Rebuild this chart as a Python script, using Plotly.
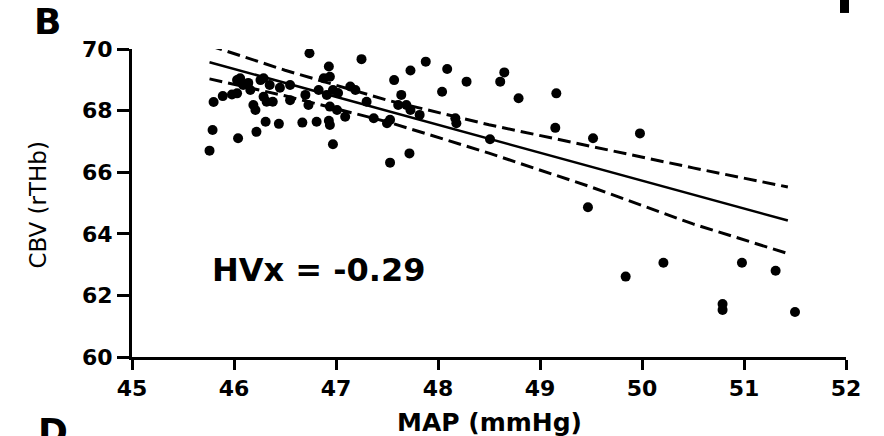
import plotly.graph_objects as go

# ---- data ----
map_mmhg = [45.76, 45.79, 45.80, 45.89, 45.98, 46.03, 46.03, 46.06, 46.04, 46.09,
            46.14, 46.16, 46.19, 46.21, 46.22, 46.26, 46.29, 46.29, 46.31, 46.32,
            46.38, 46.35, 46.45, 46.44, 46.55, 46.55, 46.67, 46.70, 46.73, 46.74,
            46.81, 46.83, 46.88, 46.93, 46.94, 46.91, 46.93, 46.94, 46.97, 46.94,
            47.01, 46.97, 47.02, 47.09, 47.14, 47.19, 47.25, 47.30, 47.37, 47.50,
            47.53, 47.53, 47.57, 47.61, 47.64, 47.69, 47.72, 47.73, 47.73, 47.82,
            47.88, 48.04, 48.09, 48.17, 48.18, 48.28, 48.51, 48.61, 48.65, 48.79,
            49.15, 49.16, 49.47, 49.52, 49.84, 49.98, 50.21, 50.79, 50.79, 50.98,
            51.31, 51.50]
cbv_rthb = [66.70, 67.37, 68.28, 68.47, 68.52, 68.56, 68.99, 69.05, 67.10, 68.83,
            68.90, 68.67, 68.18, 68.02, 67.31, 68.99, 69.05, 68.45, 67.64, 68.29,
            68.29, 68.83, 68.74, 67.57, 68.83, 68.34, 67.61, 68.51, 68.18, 69.86,
            67.64, 68.67, 69.05, 69.43, 69.10, 68.51, 67.67, 67.53, 66.91, 68.13,
            68.02, 68.67, 68.57, 67.80, 68.78, 68.67, 69.67, 68.29, 67.75, 67.59,
            67.70, 66.31, 68.99, 68.18, 68.51, 68.18, 66.61, 69.30, 68.02, 67.86,
            69.59, 68.61, 69.35, 67.75, 67.59, 68.94, 67.07, 68.94, 69.24, 68.40,
            67.44, 68.56, 64.86, 67.10, 62.61, 67.26, 63.06, 61.72, 61.53, 63.06,
            62.80, 61.46]

fit_x = [45.76, 46.5, 47.5, 48.5, 49.5, 50.5, 51.43]
fit_y = [69.57, 68.90, 67.99, 67.09, 66.18, 65.28, 64.43]
ci_upper = [70.11, 69.31, 68.34, 67.54, 66.84, 66.14, 65.52]
ci_lower = [69.03, 68.48, 67.64, 66.62, 65.52, 64.32, 63.36]

x_ticks = [45, 46, 47, 48, 49, 50, 51, 52]
y_ticks = [60, 62, 64, 66, 68, 70]

hvx_label = "HVx = -0.29"
x_title = "MAP (mmHg)"
y_title = "CBV (rTHb)"

FONT = "DejaVu Sans, Arial, sans-serif"

fig = go.Figure()
fig.add_trace(go.Scatter(x=map_mmhg, y=cbv_rthb, mode="markers",
                         marker=dict(color="black", size=10), showlegend=False))
fig.add_trace(go.Scatter(x=fit_x, y=fit_y, mode="lines",
                         line=dict(color="black", width=2.5), showlegend=False))
fig.add_trace(go.Scatter(x=fit_x, y=ci_upper, mode="lines",
                         line=dict(color="black", width=3, dash="13px,6px"), showlegend=False))
fig.add_trace(go.Scatter(x=fit_x, y=ci_lower, mode="lines",
                         line=dict(color="black", width=3, dash="13px,6px"), showlegend=False))

axis_common = dict(showline=True, linecolor="black", linewidth=3, ticks="outside",
                   tickcolor="black", tickwidth=3, showgrid=False, zeroline=False,
                   mirror=False)
fig.update_xaxes(range=[45, 52], tickvals=x_ticks,
                 ticktext=[f"<b>{v}</b>" for v in x_ticks], ticklen=10,
                 tickfont=dict(family=FONT, size=22, color="black"),
                 **axis_common)
fig.update_yaxes(range=[60, 70], tickvals=y_ticks,
                 ticktext=[f"<b>{v}</b>" for v in y_ticks], ticklen=12,
                 tickfont=dict(family=FONT, size=22, color="black"),
                 **axis_common)

annotations = [
    dict(text=f"<b>{hvx_label}</b>", x=45.76, y=62.83, xref="x", yref="y", xanchor="left",
         yanchor="middle", showarrow=False,
         font=dict(family=FONT, size=32, color="black")),
    dict(text=f"<b>{x_title}</b>", x=0.5, y=-0.212, xref="paper", yref="paper", xanchor="center",
         yanchor="middle", showarrow=False,
         font=dict(family=FONT, size=25, color="black")),
    dict(text=y_title, x=-0.132, y=0.494, xref="paper", yref="paper", xanchor="center",
         yanchor="middle", textangle=-90, showarrow=False,
         font=dict(family=FONT, size=23, color="black")),
    dict(text="<b>B</b>", x=-0.119, y=1.09, xref="paper", yref="paper", xanchor="center",
         yanchor="middle", showarrow=False,
         font=dict(family=FONT, size=36, color="black")),
    dict(text="<b>D</b>", x=-0.11, y=-0.17, xref="paper", yref="paper", xanchor="center",
         yanchor="top", showarrow=False,
         font=dict(family=FONT, size=36, color="black")),
]

shapes = [
    dict(type="rect", xref="paper", yref="paper", x0=0.9916, x1=1.0042, y0=1.117, y1=1.2,
         fillcolor="black", line=dict(width=0)),
]

fig.update_layout(width=884, height=436, margin=dict(l=132, r=38, t=49, b=79),
                  paper_bgcolor="white", plot_bgcolor="white",
                  annotations=annotations, shapes=shapes)

fig.write_html("out.html")
